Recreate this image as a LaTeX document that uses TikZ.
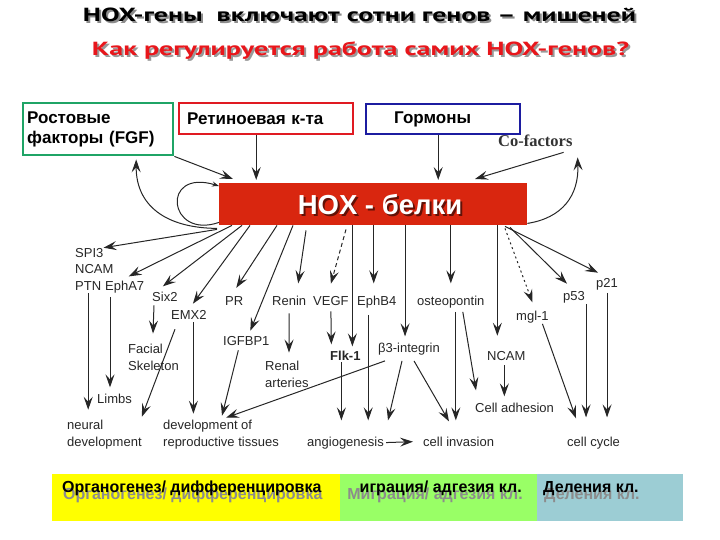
\documentclass[tikz,border=0pt]{standalone}
\usepackage{fontspec}
\usepackage{graphicx}
\setmainfont{Liberation Sans}
\newfontfamily\ptsans{PT Sans}
\newfontfamily\serifrm{Liberation Serif}
\usetikzlibrary{arrows.meta,calc}
\definecolor{hoxred}{HTML}{D9260F}
\definecolor{ttlred}{HTML}{E8161B}
\definecolor{bxgreen}{HTML}{1FA466}
\definecolor{bxred}{HTML}{E01A22}
\definecolor{bxblue}{HTML}{1C1CA0}
\definecolor{yel}{HTML}{FFFF00}
\definecolor{lgreen}{HTML}{99FF66}
\definecolor{lblue}{HTML}{9CCDD4}
\definecolor{ink}{HTML}{262626}
\newcommand\ttlone{\resizebox{553pt}{\height}{\ptsans\bfseries\fontsize{19}{22}\selectfont HOX-гены\ \ включают сотни генов – мишеней}}
\newcommand\ttltwo{\resizebox{537pt}{\height}{\ptsans\bfseries\fontsize{19}{22}\selectfont Как регулируется работа самих HOX-генов?}}
\begin{document}
\begin{tikzpicture}[x=1pt,y=-1pt,
  arr/.style={draw=ink, line width=1pt, -{Stealth[length=13pt,width=9pt,inset=5pt]}},
  lbl/.style={font=\fontsize{13}{17}\selectfont, text=ink, inner sep=0pt, anchor=base west},
  lbltwo/.style={font=\fontsize{13}{17}\selectfont, text=ink, inner sep=0pt, anchor=west, align=left},
  srcbox/.style={line width=2.4pt, anchor=north west, align=left, font=\bfseries\fontsize{17}{20}\selectfont, inner ysep=0pt},
  bottxt/.style={font=\bfseries\fontsize{16}{19}\selectfont, inner sep=0pt},
  shad/.style={text=black!45},
  ]
\useasboundingbox (0,0) rectangle (720,540);

% titles
\node[shad, inner sep=0, anchor=base] at (361.5,24) {\ttlone};
\node[text=black, inner sep=0, anchor=base] (t1) at (359.5,22) {\ttlone};
\node[text=black!40, inner sep=0, anchor=base] at (362.5,58) {\ttltwo};
\node[text=ttlred, inner sep=0, anchor=base] (t2) at (360.5,56) {\ttltwo};

% source boxes
\node[srcbox, draw=bxgreen, minimum width=150pt, minimum height=52pt, text width=142pt, inner xsep=4pt] (green) at (22,102) {Ростовые\\факторы (FGF)};
\node[srcbox, draw=bxred, minimum width=174pt, minimum height=31pt, text width=158pt, inner xsep=8pt] (red) at (178,102) {Ретиноевая к-та};
\node[srcbox, draw=bxblue, minimum width=154pt, minimum height=30pt, text width=98pt, inner xsep=28pt] (blue) at (365,103) {Гормоны};
\node[font=\serifrm\bfseries\fontsize{16.5}{18}\selectfont, text=black!80, inner sep=0, anchor=base west] (cof) at (498,147) {Co-factors};

% HOX box
\node[fill=hoxred, minimum width=308pt, minimum height=42pt, anchor=north west, inner sep=0] (hox) at (219,183) {};
\node[text=black!55!hoxred, font=\bfseries\fontsize{27.5}{30}\selectfont, inner sep=0] at (382,207) {HOX - белки};
\node[text=white, font=\bfseries\fontsize{27.5}{30}\selectfont, inner sep=0] (hoxlbl) at (380,205) {HOX - белки};

% labels
\node[lbl] (spi) at (75,257) {SPI3};
\node[lbl] (ncama) at (75,273) {NCAM};
\node[lbl] (ptn) at (75,290) {PTN};
\node[lbl] (epha) at (105,290) {EphA7};
\node[lbl] (six) at (152,301) {Six2};
\node[lbl] (emx) at (171,319) {EMX2};
\node[lbl] (pr) at (225,305) {PR};
\node[lbl] (igf) at (223,345) {IGFBP1};
\node[lbl] (renin) at (272,305) {Renin};
\node[lbl] (vegf) at (313,305) {VEGF};
\node[lbl] (ephb) at (357,305) {EphB4};
\node[lbl] (osteo) at (417,305) {osteopontin};
\node[lbl, font=\bfseries\fontsize{13}{17}\selectfont] (flk) at (330,360) {Flk-1};
\node[lbl] (beta) at (378,352) {β3-integrin};
\node[lbl] (ncamb) at (487,360) {NCAM};
\node[lbl] (mgl) at (516,320) {mgl-1};
\node[lbl] (pf) at (563,300) {p53};
\node[lbl] (pt) at (596,287) {p21};
\node[lbl] (adh) at (475,412) {Cell adhesion};
\node[lbl] (limbs) at (97,403) {Limbs};
\node[lbl] (angio) at (307,446) {angiogenesis};
\node[lbl] (inv) at (423,446) {cell invasion};
\node[lbl] (cyc) at (567,446) {cell cycle};
\node[lbltwo] (facial) at (128,357) {Facial\\Skeleton};
\node[lbltwo] (renal) at (265,374) {Renal\\arteries};
\node[lbltwo] (neural) at (67,434.5) {neural\\development};
\node[lbltwo] (repro) at (163,434.5) {development of\\reproductive tissues};

% incoming arrows
\draw[arr] (green.south east) -- ([xshift=14pt,yshift=4pt]hox.north west);
\draw[arr] ([xshift=-10pt]red.south) -- ($(red.south |- hox.north)+(-10,-3)$);
\draw[arr] ([xshift=-5pt]blue.south) -- ($(blue.south |- hox.north)+(-5,-3)$);
\draw[arr] ([xshift=-9pt,yshift=-5pt]cof.south east) -- ([xshift=256pt,yshift=4pt]hox.north west);
\draw[arr] ([yshift=2pt]hox.south east) .. controls (562,218) and (579,196) .. ([xshift=5pt,yshift=-10pt]cof.south east);
\draw[arr] ([xshift=-2pt,yshift=-3pt]hox.south west) .. controls (165,228) and (136,205) .. ([xshift=38pt,yshift=-3pt]green.south);
\draw[draw=ink, line width=1pt, -{Stealth[length=7pt,width=5pt,inset=2.5pt]}] ([yshift=3pt]hox.south west) .. controls (168,240) and (160,168) .. ([yshift=-3pt]hox.north west);

% outgoing arrows from HOX
\draw[arr] ([xshift=-2pt,yshift=-4pt]hox.south west) -- (spi.north east);
\draw[arr] ([xshift=13pt]hox.south west) -- ([xshift=4pt,yshift=4pt]epha.north);
\draw[arr] ([xshift=23pt]hox.south west) -- ([xshift=-2pt,yshift=5pt]six.north);
\draw[arr] ([xshift=31pt]hox.south west) -- ([xshift=4pt,yshift=6pt]emx.north);
\draw[arr] ([xshift=58pt]hox.south west) -- ([xshift=2pt,yshift=8pt]pr.north);
\draw[arr] ([xshift=74pt]hox.south west) -- ([xshift=4pt,yshift=5pt]igf.north);
\draw[arr] ([xshift=87pt,yshift=-5pt]hox.south west) -- ([xshift=9pt,yshift=12pt]renin.north);
\draw[arr, dash pattern=on 4pt off 3pt] ([xshift=127pt,yshift=-4pt]hox.south west) -- ([yshift=12pt]vegf.north);
\coordinate (flkin) at ([xshift=7pt,yshift=4pt]flk.north);
\draw[arr] (flkin |- hox.south) -- (flkin);
\coordinate (ephbin) at ([xshift=-3pt,yshift=12pt]ephb.north);
\draw[arr] (ephbin |- hox.south) -- (ephbin);
\coordinate (betain) at ([xshift=-4pt,yshift=6pt]beta.north);
\draw[arr] (betain |- hox.south) -- (betain);
\coordinate (ostin) at ([yshift=12pt]osteo.north);
\draw[arr] (ostin |- hox.south) -- (ostin);
\coordinate (ncamin) at ([xshift=-9pt,yshift=15pt]ncamb.north);
\draw[arr] (ncamin |- hox.south) -- (ncamin);
\draw[arr, dash pattern=on 2pt off 3pt] ([xshift=286pt,yshift=-3pt]hox.south west) -- ([yshift=8pt]mgl.north);
\draw[arr] ([xshift=291pt,yshift=-2pt]hox.south west) -- ([xshift=-7pt,yshift=7pt]pf.north);
\draw[arr] ([xshift=286pt,yshift=-1pt]hox.south west) -- ([xshift=-9pt,yshift=5pt]pt.north);

% second level
\coordinate (row) at ([yshift=16pt]angio.north);
\coordinate (rowc) at ([yshift=19pt]cyc.north);
\coordinate (adhin) at ([yshift=6pt]adh.north);
\coordinate (ptnout) at ([yshift=-3pt]ptn.south);
\draw[arr, shorten >=10pt] (ptnout) -- (ptnout |- neural.north);
\draw[arr] ([xshift=5pt,yshift=-4pt]epha.south west) -- ([xshift=13pt,yshift=6pt]limbs.north west);
\draw[arr] ([xshift=2pt,yshift=-4pt]six.south west) -- ([xshift=25pt,yshift=10pt]facial.north west);
\draw[arr] ([xshift=4pt,yshift=-10pt]emx.south west) -- ([yshift=3pt]neural.north east);
\coordinate (emxout) at ([xshift=4.5pt,yshift=-3pt]emx.south);
\draw[arr, shorten >=6pt] (emxout) -- (emxout |- repro.north);
\draw[arr] ([xshift=-8pt,yshift=-5pt]igf.south) -- ([xshift=59pt,yshift=4pt]repro.north west);
\draw[arr] ([xshift=7pt,yshift=-6pt]beta.south west) -- ([xshift=63pt,yshift=2pt]repro.north west);
\draw[arr] ([yshift=-8pt]renin.south) -- ([xshift=24pt,yshift=8pt]renal.north west);
\draw[arr] ([yshift=-6pt]vegf.south) -- ([xshift=-14pt,yshift=6pt]flk.north);
\coordinate (flkout) at ([xshift=-4pt,yshift=-2pt]flk.south);
\draw[arr] (flkout) -- (flkout |- row);
\coordinate (ephbout) at ([xshift=-8.5pt,yshift=-7pt]ephb.south);
\draw[arr] (ephbout) -- (ephbout |- row);
\draw[arr] ([xshift=24pt,yshift=-6pt]beta.south west) -- ([xshift=81pt,yshift=16pt]angio.north west);
\draw[arr] ([xshift=36pt,yshift=-6pt]beta.south west) -- ([xshift=26pt,yshift=15pt]inv.north west);
\coordinate (ostout) at ([xshift=5pt,yshift=-4pt]osteo.south);
\draw[arr] (ostout) -- (ostout |- row);
\draw[arr] ([xshift=12pt,yshift=-4pt]osteo.south) -- ([xshift=1pt,yshift=12pt]adh.north west);
\coordinate (ncamout) at ([xshift=-2pt,yshift=-5pt]ncamb.south);
\draw[arr] (ncamout) -- (ncamout |- adhin);
\draw[arr] ([xshift=10pt,yshift=-1pt]mgl.south) -- ([xshift=9pt,yshift=18pt]cyc.north west);
\coordinate (p53out) at ([xshift=12pt,yshift=-1pt]pf.south);
\draw[arr] (p53out) -- (p53out |- rowc);
\coordinate (p21out) at ([yshift=-3pt]pt.south);
\draw[arr] (p21out) -- (p21out |- rowc);
\draw[arr, shorten >=10pt, shorten <=2pt] (angio.east) -- (inv.west);

% bottom boxes
\node[fill=yel, minimum width=288pt, minimum height=47pt, anchor=north west, inner sep=0] (bx1) at (52,474) {};
\node[fill=lgreen, minimum width=197pt, minimum height=47pt, anchor=north west, inner sep=0] (bx2) at (340,474) {};
\node[fill=lblue, minimum width=146pt, minimum height=47pt, anchor=north west, inner sep=0] (bx3) at (537,474) {};
\node[bottxt, shad, anchor=base west] at (63,499) {Органогенез/ дифференцировка};
\node[bottxt, anchor=base west] (o1) at (62,492) {Органогенез/ дифференцировка};
\node[bottxt, shad, anchor=base east] at (523,499) {Миграция/ адгезия кл.};
\node[bottxt, anchor=base east] (o2) at (522,492) {играция/ адгезия кл.};
\node[bottxt, shad, anchor=base west] at (544,499) {Деления кл.};
\node[bottxt, anchor=base west] (o3) at (543,492) {Деления кл.};
\end{tikzpicture}
\end{document}
